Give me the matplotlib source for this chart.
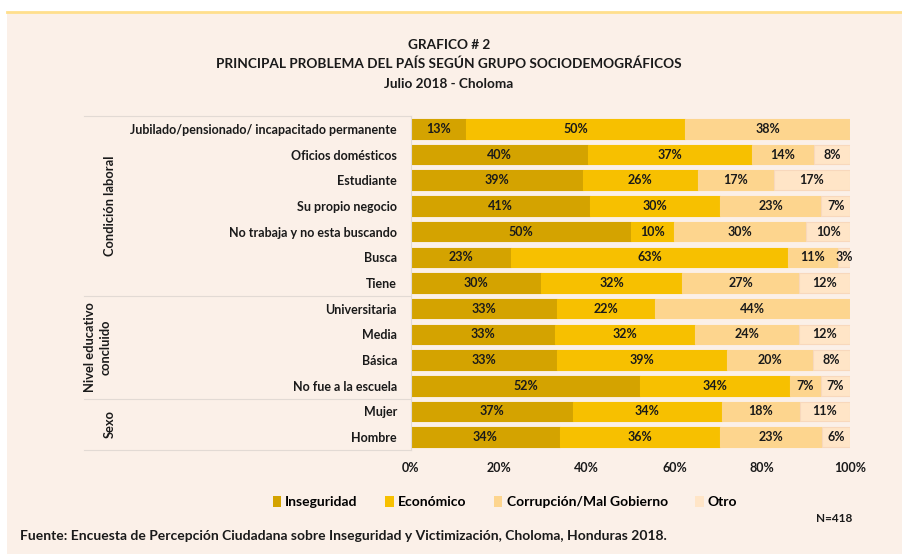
import numpy as np
import matplotlib.pyplot as plt
from matplotlib.patches import Rectangle
from matplotlib.transforms import blended_transform_factory

plt.rcParams['font.family'] = ['Lato', 'DejaVu Sans']
plt.rcParams['font.weight'] = 'bold'

# Datos (porcentajes)
categorias = ["Jubilado/pensionado/ incapacitado permanente", "Oficios domésticos",
              "Estudiante", "Su propio negocio", "No trabaja y no esta buscando",
              "Busca", "Tiene", "Universitaria", "Media", "Básica",
              "No fue a la escuela", "Mujer", "Hombre"]
inseguridad = [12.5, 40.4, 39.1, 40.7, 50.0, 22.8, 29.7, 33.3, 32.9, 33.2, 52.2, 36.8, 33.9]
economico = [50.0, 37.2, 26.2, 29.6, 10.0, 63.1, 32.0, 22.2, 31.7, 38.7, 34.1, 34.0, 36.4]
corrupcion = [37.5, 14.2, 17.4, 23.2, 30.0, 11.3, 26.7, 44.4, 23.8, 19.7, 7.0, 17.8, 23.4]
otro = [0.0, 8.2, 17.3, 6.6, 10.0, 2.8, 11.6, 0.0, 11.6, 8.4, 6.7, 11.4, 6.3]

series = ["Inseguridad", "Económico", "Corrupción/Mal Gobierno", "Otro"]
colores = ["#D4A300", "#F7C000", "#FDD58E", "#FFE5C7"]

grupos = ["Condición laboral", "Nivel educativo\nconcluido", "Sexo"]
grupo_lim = [-0.5, 6.5, 10.5, 12.5]

W, H = 902, 554
fig = plt.figure(figsize=(W / 100, H / 100), dpi=100)
fig.patch.set_facecolor("white")

bg = "#FBF0E8"
txt = "#1A1A1A"
fig.patches.append(Rectangle((7 / W, 0), 1 - 7 / W, (H - 12) / H, transform=fig.transFigure,
                             facecolor=bg, edgecolor="none", zorder=-10))
fig.lines.append(plt.Line2D([7 / W, 1], [(H - 12) / H, (H - 12) / H], transform=fig.transFigure,
                            color="#FFDF8C", lw=2))

ax = fig.add_axes([411 / W, (H - 450) / H, (850 - 411) / W, (450 - 116) / H])
ax.set_facecolor(bg)

y = np.arange(len(categorias))
datos = [inseguridad, economico, corrupcion, otro]
izq = np.zeros(len(categorias))
for vals, col, nombre in zip(datos, colores, series):
    vals = np.array(vals)
    ec = "#F8D8BC" if nombre == "Otro" else col
    ax.barh(y, vals, left=izq, height=0.76, color=col, edgecolor=ec, linewidth=0.8, label=nombre)
    for yi, l, v in zip(y, izq, vals):
        if v > 0:
            ax.text(l + v / 2, yi, f"{int(v + 0.5)}%", ha="center", va="center",
                    fontsize=9, fontweight="bold", color=txt, clip_on=False)
    izq += vals

ax.set_xlim(0, 100)
ax.set_ylim(12.5, -0.5)
ax.set_yticks(y)
ax.set_yticklabels(categorias, fontsize=9, fontweight="bold", color=txt)
ax.set_xticks(np.arange(0, 101, 20))
ax.set_xticklabels([f"{t}%" for t in range(0, 101, 20)], fontsize=9, fontweight="bold", color=txt)
ax.tick_params(axis="both", length=0)
ax.tick_params(axis="y", pad=10)
ax.tick_params(axis="x", pad=9)
for s in ["top", "right", "bottom"]:
    ax.spines[s].set_visible(False)
ax.spines["left"].set_color("#E2DAD4")
ax.spines["left"].set_linewidth(0.8)

# líneas separadoras de grupos y etiquetas de grupo
tr = blended_transform_factory(fig.transFigure, ax.transData)
for gl in grupo_lim:
    ax.plot([84 / W, 411 / W], [gl, gl], transform=tr, color="#E2DAD4", lw=0.8, clip_on=False)
for g, a, b in zip(grupos, grupo_lim[:-1], grupo_lim[1:]):
    xg = 98 / W if "\n" in g else 110 / W
    ax.text(xg, (a + b) / 2, g, transform=tr, rotation=90, ha="center", va="center",
            fontsize=9.3, fontweight="bold", color=txt, linespacing=1.3)

# títulos
titulos = ["GRAFICO # 2", "PRINCIPAL PROBLEMA DEL PAÍS SEGÚN GRUPO SOCIODEMOGRÁFICOS", "Julio 2018 - Choloma"]
for t, yy in zip(titulos, [45, 64, 84]):
    fig.text(449 / W, 1 - yy / H, t, ha="center", va="center", fontsize=9.8, fontweight="bold", color=txt)

handles = [Rectangle((0, 0), 1, 1, facecolor=c, edgecolor="none") for c in colores]
fig.legend(handles, series, loc="center", bbox_to_anchor=(505 / W, 1 - 502 / H), ncol=4,
           frameon=False, handlelength=0.6, handleheight=0.8, handletextpad=0.3, columnspacing=2.0,
           prop={"size": 10, "weight": "bold"})

fig.text(852 / W, 1 - 519 / H, "N=418", ha="right", va="center", fontsize=8.5, fontweight="bold", color=txt)
fig.text(20 / W, 1 - 536 / H,
         "Fuente: Encuesta de Percepción Ciudadana sobre Inseguridad y Victimización, Choloma, Honduras 2018.",
         ha="left", va="center", fontsize=10, fontweight="bold", color=txt)

fig.savefig("out.png", dpi=100, facecolor=fig.get_facecolor())
